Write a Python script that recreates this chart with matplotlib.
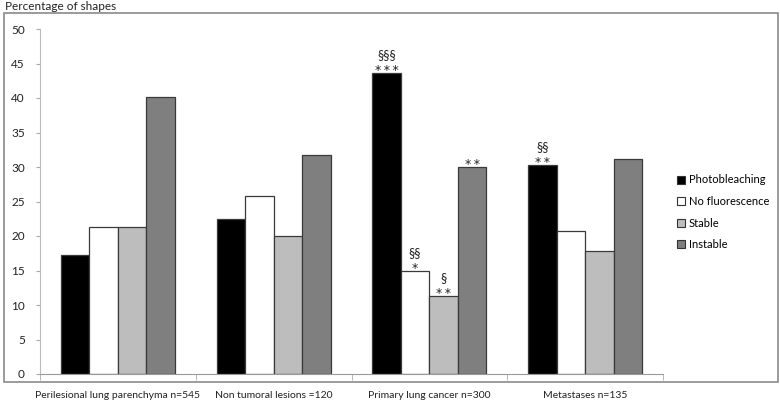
import numpy as np
import matplotlib.pyplot as plt
from matplotlib.patches import Rectangle
from matplotlib.lines import Line2D

plt.rcParams['font.family'] = ['Lato', 'DejaVu Sans']

# data
groups = ['Perilesional lung parenchyma n=545', 'Non tumoral lesions =120',
          'Primary lung cancer n=300', 'Metastases n=135']
series = ['Photobleaching', 'No fluorescence', 'Stable', 'Instable']
photobleaching = [17.2, 22.4, 43.6, 30.3]
no_fluorescence = [21.3, 25.8, 15.0, 20.7]
stable = [21.3, 20.0, 11.3, 17.8]
instable = [40.2, 31.7, 30.0, 31.1]
values = [photobleaching, no_fluorescence, stable, instable]
colors = ['#000000', '#ffffff', '#bdbdbd', '#7f7f7f']

# significance marks: (group, series, stars, sections)
marks = [(2, 0, 3, 3), (2, 1, 1, 2), (2, 2, 2, 1), (2, 3, 2, 0), (3, 0, 2, 2)]

fig = plt.figure(figsize=(7.8, 4.03), dpi=100)
ax = fig.add_axes([40 / 780, 29 / 403, 623 / 780, 345 / 403])

w = 0.183
x = np.arange(len(groups))
for i, (vals, c) in enumerate(zip(values, colors)):
    ax.bar(x + (i - 1.5) * w, vals, width=w, color=c, edgecolor='#3a3a3a',
           linewidth=0.9, label=series[i], zorder=2)

for g, s, n_star, n_sec in marks:
    xc = g + (s - 1.5) * w
    top = values[s][g]
    ax.text(xc, top - 0.15, '\u2009'.join('*' * n_star), ha='center', va='baseline',
            fontsize=9, family='DejaVu Sans', color='#222222')
    if n_sec:
        ax.text(xc, top + 2.6, '§' * n_sec, ha='center', va='center',
                fontsize=9, color='#222222')

ax.set_xlim(-0.5, 3.5)
ax.set_ylim(0, 50)
ax.set_yticks(range(0, 51, 5))
ax.tick_params(axis='y', labelsize=8.5, length=3, color='#aaaaaa', pad=8, labelcolor='#222222')
ax.set_xticks(x)
ax.set_xticklabels(groups, fontsize=7.5, color='#222222')
ax.tick_params(axis='x', length=0, pad=12)
ax.set_xticks([-0.5, 0.5, 1.5, 2.5, 3.5], minor=True)
ax.tick_params(axis='x', which='minor', length=4, color='#aaaaaa')
for sp in ['top', 'right']:
    ax.spines[sp].set_visible(False)
ax.spines['left'].set_color('#bbbbbb')
ax.spines['bottom'].set_color('#999999')

handles = [Line2D([], [], marker='s', linestyle='none', markersize=6,
                  markerfacecolor=c, markeredgecolor='#333333', markeredgewidth=0.8)
           for c in colors]
fig.legend(handles, series, loc='upper left', bbox_to_anchor=(672 / 780, 1 - 170 / 403),
           frameon=False, fontsize=8, handlelength=0.8, handletextpad=0.3,
           labelspacing=0.95, borderaxespad=0)

fig.patches.append(Rectangle((4 / 780, 21 / 403), 774 / 780, 369 / 403,
                             transform=fig.transFigure, fill=False,
                             edgecolor='#8a8a8a', linewidth=1.2))
fig.text(5 / 780, 1 - 7 / 403, 'Percentage of shapes', fontsize=8.5,
         va='center', ha='left', color='#222222')

fig.savefig('out.png', dpi=100)
